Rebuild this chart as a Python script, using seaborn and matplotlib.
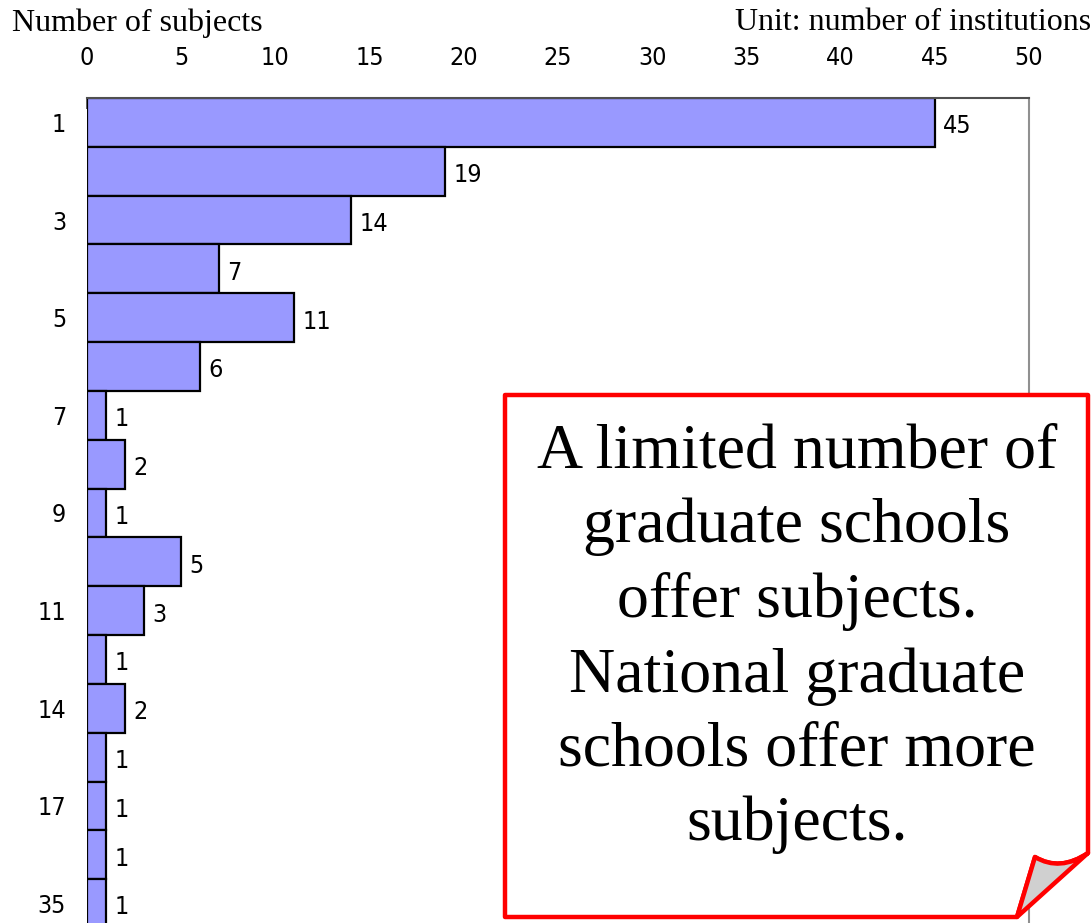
import matplotlib
matplotlib.use("Agg")
import matplotlib.pyplot as plt
import seaborn as sns
import pandas as pd
from matplotlib.path import Path
from matplotlib.patches import PathPatch

# ---- data ----
subjects = ["1", "2", "3", "4", "5", "6", "7", "8", "9", "10", "11", "13", "14", "16", "17", "20", "35"]
tick_labels = ["1", "", "3", "", "5", "", "7", "", "9", "", "11", "", "14", "", "17", "", "35"]
institutions = [45, 19, 14, 7, 11, 6, 1, 2, 1, 5, 3, 1, 2, 1, 1, 1, 1]
x_ticks = [0, 5, 10, 15, 20, 25, 30, 35, 40, 45, 50]
note_lines = ["A limited number of", "graduate schools", "offer subjects.",
              "National graduate", "schools offer more", "subjects."]

sns.set_theme(style="white")
narrow = ["DejaVu Sans"]
serif = ["Liberation Serif", "DejaVu Serif"]
nkw = dict(fontfamily=narrow, fontstretch="condensed", fontsize=18, color="black")

W, H = 1092, 923
fig = plt.figure(figsize=(W / 100, H / 100), dpi=100)

def fx(px):
    return px / W

def fy(py):
    return 1 - py / H

ax_top, ax_bot = 98, 928
ax = fig.add_axes([fx(87), fy(ax_bot), fx(1029) - fx(87), (ax_bot - ax_top) / H])

df = pd.DataFrame({"subjects": subjects, "institutions": institutions})
sns.barplot(data=df, x="institutions", y="subjects", order=subjects, orient="h",
            color="#9999FF", saturation=1, width=1.0, edgecolor="black",
            linewidth=1.6, ax=ax)

ax.set_xlim(0, 50)
ax.set_ylim(len(subjects) - 0.5, -0.5)
ax.xaxis.tick_top()
ax.set_xticks(x_ticks)
ax.set_xticklabels([str(t) for t in x_ticks], **nkw)
ax.tick_params(axis="x", direction="in", length=8, width=1.2, color="#404040",
               pad=20, top=True, bottom=False, labelcolor="black")
ax.set_yticks(range(len(subjects)))
ax.set_yticklabels(tick_labels, **nkw)
ax.tick_params(axis="y", length=0, pad=15, labelcolor="black")
ax.set_xlabel("")
ax.set_ylabel("")
for s in ["left", "bottom"]:
    ax.spines[s].set_visible(False)
ax.spines["top"].set_color("#505050")
ax.spines["top"].set_linewidth(1.5)
ax.spines["right"].set_color("#909090")
ax.spines["right"].set_linewidth(1.5)

for i, v in enumerate(institutions):
    ax.text(v + 0.45, i + 0.08, str(v), va="center", ha="left", **nkw)

fig.text(fx(12), fy(23), "Number of subjects", ha="left", va="center",
         fontfamily=serif, fontsize=23, color="black")
fig.text(fx(1091), fy(23), "Unit: number of institutions", ha="right", va="center",
         fontfamily=serif, fontsize=23, color="black")

# ---- callout box with curled corner ----
def P(x, y):
    return (fx(x), fy(y))

verts = [P(505, 395), P(1088, 395), P(1088, 853),
         P(1060, 872), P(1035, 857),
         P(1017, 917), P(505, 917), P(505, 395)]
codes = [Path.MOVETO, Path.LINETO, Path.LINETO,
         Path.CURVE3, Path.CURVE3,
         Path.LINETO, Path.LINETO, Path.CLOSEPOLY]
box = PathPatch(Path(verts, codes), transform=fig.transFigure, facecolor="white",
                edgecolor="#FF0000", linewidth=3.2, joinstyle="round", zorder=5)
fig.patches.append(box)

fverts = [P(1035, 857), P(1060, 872), P(1088, 853), P(1017, 917), P(1035, 857)]
fcodes = [Path.MOVETO, Path.CURVE3, Path.CURVE3, Path.LINETO, Path.CLOSEPOLY]
fold = PathPatch(Path(fverts, fcodes), transform=fig.transFigure, facecolor="#D0D0D0",
                 edgecolor="#FF0000", linewidth=3.2, joinstyle="round", zorder=6)
fig.patches.append(fold)

fig.text(fx(797), fy(639), "\n".join(note_lines), ha="center", va="center",
         fontfamily=serif, fontsize=46, linespacing=1.36, color="black", zorder=7)

fig.savefig("out.png", dpi=100)
